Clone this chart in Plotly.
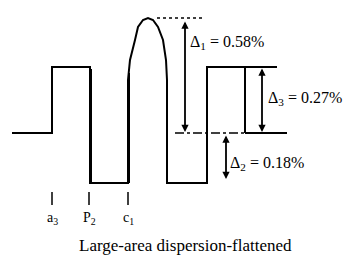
import plotly.graph_objects as go

# Schematic refractive-index profile (radial position vs. relative index level)
profile_r = [12, 52, 52, 90, 90, 128, 128, 130, 135, 138, 143, 148, 153, 158, 163, 166, 167, 167, 207, 207, 277]
profile_n = [0, 0, 66, 66, -50, -50, 53, 73, 93, 106, 113, 115, 113, 106, 93, 73, 53, -50, -50, 66, 66]

# level reference values
base_level = 0
ring_level = 66
trench_level = -50
peak_level = 115

# dimension labels
delta_labels = ["Δ<sub>1</sub> = 0.58%", "Δ<sub>2</sub> = 0.18%", "Δ<sub>3</sub> = 0.27%"]
tick_pos = [52, 89, 128]
tick_labels = ["a<sub>3</sub>", "P<sub>2</sub>", "c<sub>1</sub>"]
title_text = "Large-area dispersion-flattened"

FONT = "Liberation Serif"
fig = go.Figure()

# main profile
fig.add_trace(go.Scatter(x=profile_r, y=profile_n, mode="lines",
                         line=dict(color="black", width=2), hoverinfo="skip"))
# thickened edges
fig.add_trace(go.Scatter(x=[91, 91], y=[ring_level - 2, trench_level], mode="lines",
                         line=dict(color="black", width=2), hoverinfo="skip"))
fig.add_trace(go.Scatter(x=[129, 129], y=[trench_level, 60], mode="lines",
                         line=dict(color="black", width=2), hoverinfo="skip"))

# dotted peak reference
fig.add_trace(go.Scatter(x=[157, 205], y=[peak_level, peak_level], mode="lines",
                         line=dict(color="black", width=1.5, dash="dot"), hoverinfo="skip"))
# baseline reference (dash-dot then solid)
fig.add_trace(go.Scatter(x=[175, 245], y=[base_level, base_level], mode="lines",
                         line=dict(color="black", width=1.5, dash="dashdot"), hoverinfo="skip"))
fig.add_trace(go.Scatter(x=[245, 287], y=[base_level, base_level], mode="lines",
                         line=dict(color="black", width=2), hoverinfo="skip"))
fig.add_trace(go.Scatter(x=[245, 245], y=[base_level, ring_level], mode="lines",
                         line=dict(color="black", width=2), hoverinfo="skip"))

# dimension arrows
arrows = [(185, peak_level - 2, base_level + 1), (262, ring_level, base_level + 1),
          (226, base_level - 1, trench_level + 4)]
for xa, y0, y1 in arrows:
    fig.add_annotation(x=xa, y=y1, ax=xa, ay=y0, xref="x", yref="y", axref="x", ayref="y",
                       showarrow=True, arrowhead=2, arrowside="end+start",
                       arrowsize=0.8, arrowwidth=1.8, arrowcolor="black", text="")

# delta labels
label_pos = [(188, 91), (228, -30), (266, 35)]
for (lx, ly), t in zip(label_pos, delta_labels):
    fig.add_annotation(x=lx, y=ly, xref="x", yref="y", text=t, showarrow=False,
                       xanchor="left", yanchor="middle",
                       font=dict(family=FONT, size=16, color="black"))

# tick marks + labels
for tp, tl in zip(tick_pos, tick_labels):
    fig.add_trace(go.Scatter(x=[tp, tp], y=[-59, -72], mode="lines",
                             line=dict(color="black", width=1.5), hoverinfo="skip"))
    fig.add_annotation(x=tp, y=-85, xref="x", yref="y", text=tl, showarrow=False,
                       xanchor="center", yanchor="middle",
                       font=dict(family=FONT, size=14, color="black"))

fig.add_annotation(x=185, y=-112, xref="x", yref="y", text=title_text, showarrow=False,
                   xanchor="center", yanchor="middle",
                   font=dict(family=FONT, size=17, color="black"))

fig.update_layout(width=345, height=257, margin=dict(l=0, r=0, t=0, b=0),
                  paper_bgcolor="white", plot_bgcolor="white", showlegend=False,
                  xaxis=dict(range=[0, 345], visible=False, fixedrange=True),
                  yaxis=dict(range=[-124, 133], visible=False, fixedrange=True))

fig.write_html("out.html", config={"displayModeBar": False},
               post_script="document.body.style.margin='0';document.body.style.overflow='hidden';")
